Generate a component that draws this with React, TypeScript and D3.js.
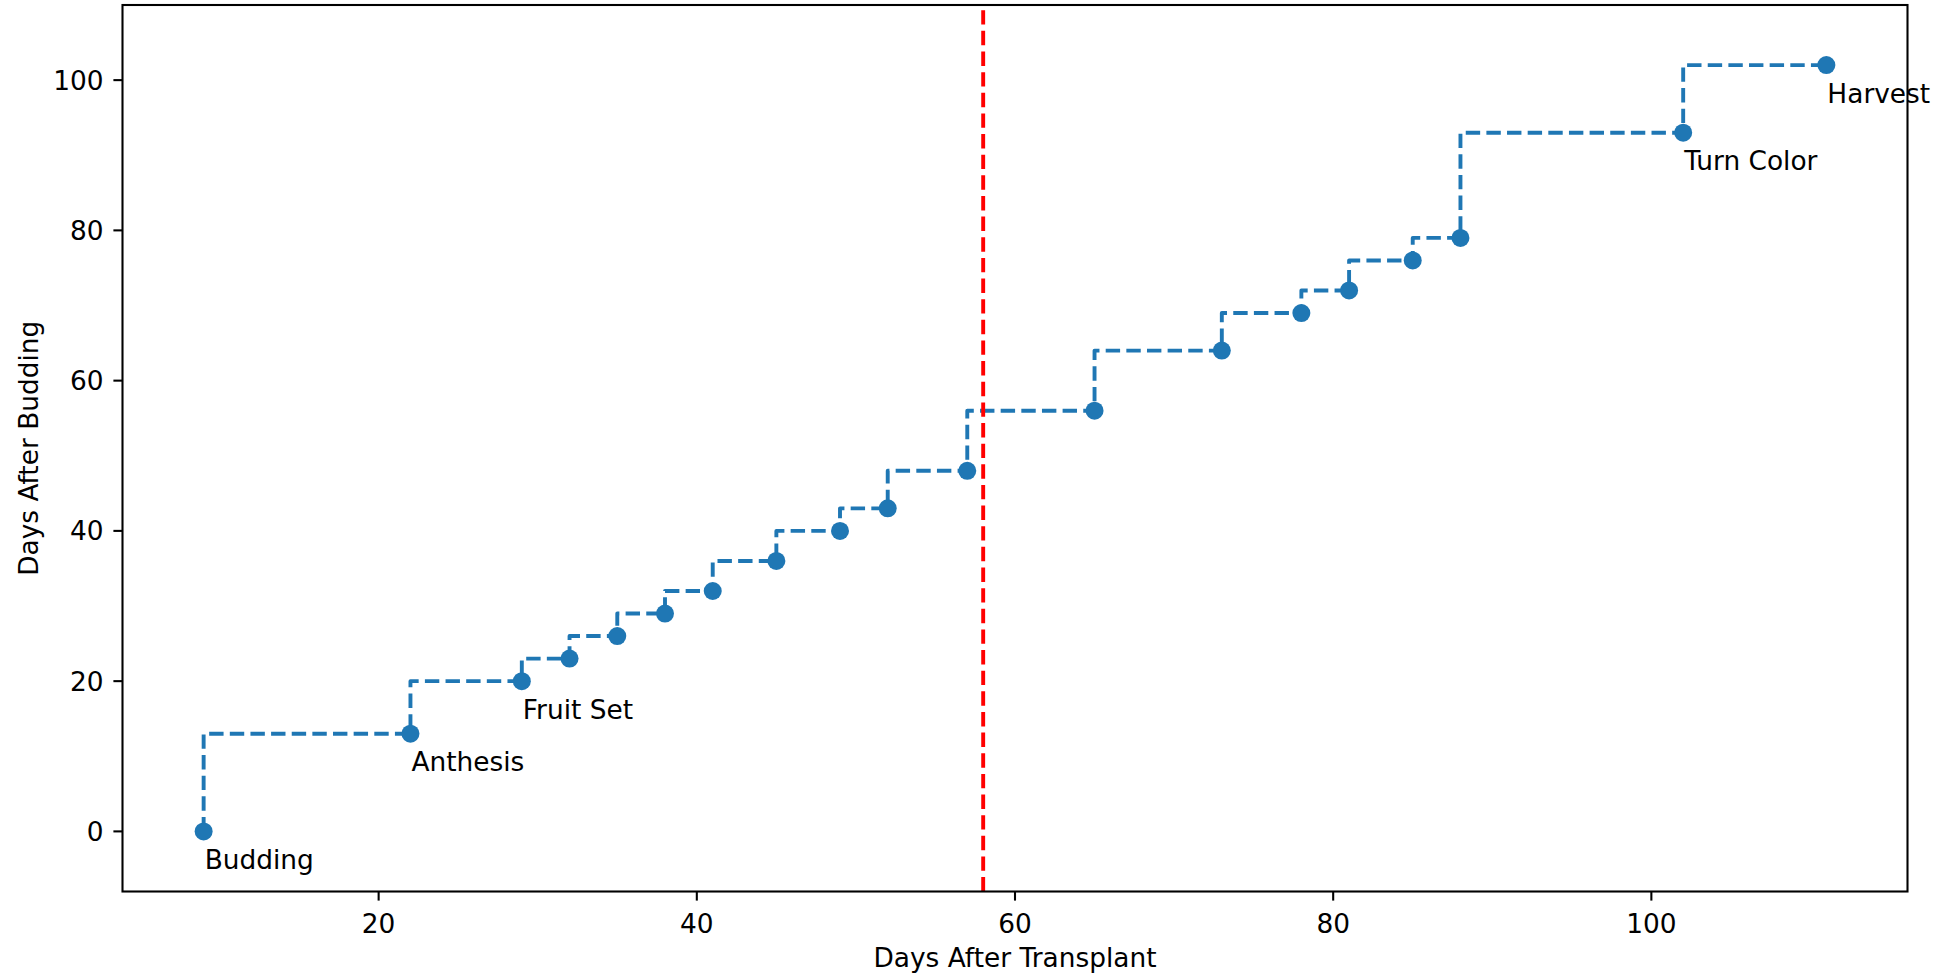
import React from "react";
import * as d3 from "d3";

const daysAfterTransplant = [9, 22, 29, 32, 35, 38, 41, 45, 49, 52, 57, 65, 73, 78, 81, 85, 88, 102, 111];
const daysAfterBudding = [0, 13, 20, 23, 26, 29, 32, 36, 40, 43, 48, 56, 64, 69, 72, 76, 79, 93, 102];
const stageNames = ["Budding", "Anthesis", "Fruit Set", "", "", "", "", "", "", "", "", "", "", "", "", "", "", "Turn Color", "Harvest"];
const markerDay = 58;
const xTicks = [20, 40, 60, 80, 100];
const yTicks = [0, 20, 40, 60, 80, 100];
const xDomain = [3.9, 116.1];
const yDomain = [-8, 110];

const W = 1957;
const H = 976;
const L = 122.5, R = 1907.5, T = 5, B = 891.5;
const FONT = "'DejaVu Sans', sans-serif";
const FS = 26.4;
const BLUE = "#1f77b4";

export default function App() {
  const x = d3.scaleLinear().domain(xDomain).range([L, R]);
  const y = d3.scaleLinear().domain(yDomain).range([B, T]);
  const pts = daysAfterTransplant.map((d, i) => ({ x: d, y: daysAfterBudding[i], name: stageNames[i] }));
  const line = d3
    .line<{ x: number; y: number }>()
    .x((d) => x(d.x))
    .y((d) => y(d.y))
    .curve(d3.curveStepBefore);

  return (
    <svg
      width={W}
      height={H}
      style={{ position: "absolute", left: 0, top: 0, background: "#fff" }}
      fontFamily={FONT}
    >
      <rect x={0} y={0} width={W} height={H} fill="#fff" />
      <path
        d={line(pts) || ""}
        fill="none"
        stroke={BLUE}
        strokeWidth={3.9}
        strokeDasharray="14.4,6.24"
        strokeLinejoin="round"
      />
      {pts.map((p, i) => (
        <circle key={i} cx={x(p.x)} cy={y(p.y)} r={9} fill={BLUE} />
      ))}
      {pts
        .filter((p) => p.name)
        .map((p, i) => (
          <text key={i} x={x(p.x) + 1} y={y(p.y) + 37.5} fontSize={FS} fill="#000">
            {p.name}
          </text>
        ))}
      <line
        x1={x(markerDay)}
        x2={x(markerDay)}
        y1={B}
        y2={T}
        stroke="#ff0000"
        strokeWidth={3.9}
        strokeDasharray="14.4,6.24"
      />
      {/* spines */}
      <rect x={L} y={T} width={R - L} height={B - T} fill="none" stroke="#000" strokeWidth={2.08} />
      {/* x ticks */}
      {xTicks.map((t) => (
        <g key={t}>
          <line x1={x(t)} x2={x(t)} y1={B} y2={B + 9.1} stroke="#000" strokeWidth={2.08} />
          <text x={x(t)} y={B + 41.5} textAnchor="middle" fontSize={FS} fill="#000">
            {t}
          </text>
        </g>
      ))}
      {/* y ticks */}
      {yTicks.map((t) => (
        <g key={t}>
          <line x1={L} x2={L - 9.1} y1={y(t)} y2={y(t)} stroke="#000" strokeWidth={2.08} />
          <text x={L - 19} y={y(t) + 9.5} textAnchor="end" fontSize={FS} fill="#000">
            {t}
          </text>
        </g>
      ))}
      <text x={(L + R) / 2} y={967.3} textAnchor="middle" fontSize={FS} fill="#000">
        Days After Transplant
      </text>
      <text
        transform={`translate(37.5, ${(T + B) / 2}) rotate(-90)`}
        textAnchor="middle"
        fontSize={FS}
        fill="#000"
      >
        Days After Budding
      </text>
    </svg>
  );
}
